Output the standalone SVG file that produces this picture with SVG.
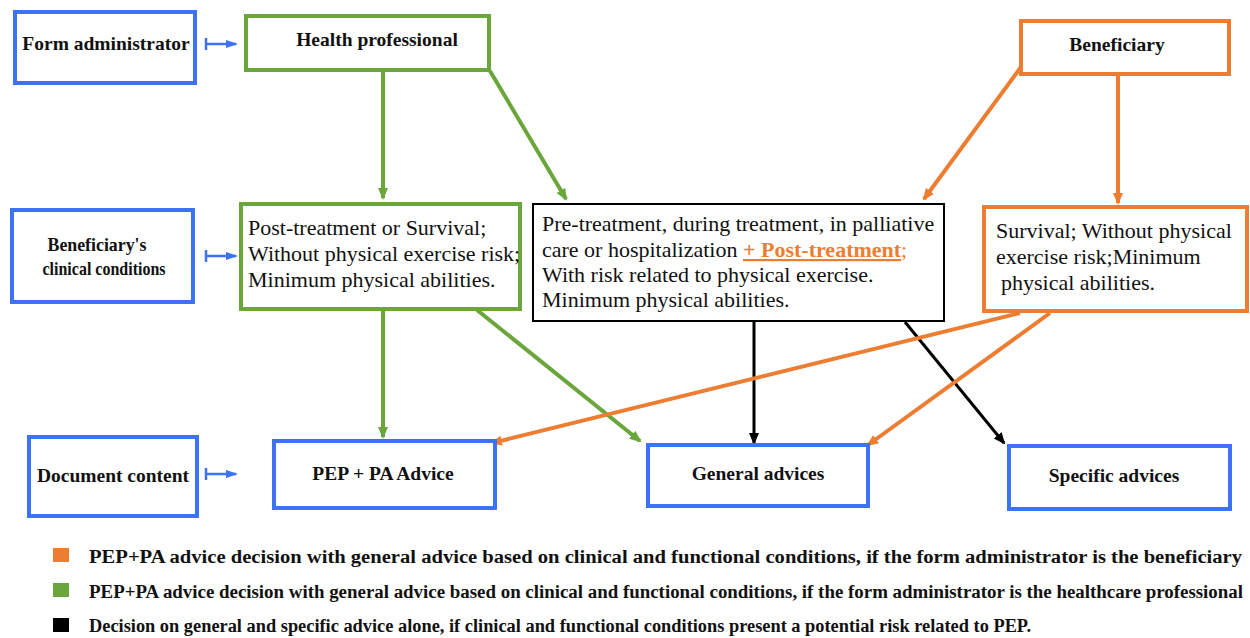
<svg xmlns="http://www.w3.org/2000/svg" width="1250" height="638" viewBox="0 0 1250 638">
<defs>
<style>
.blue{fill:#fff;stroke:#3d72f5;stroke-width:4}
.green{fill:#fff;stroke:#6aa63a;stroke-width:4}
.orange{fill:#fff;stroke:#ed7d31;stroke-width:4}
.black{fill:#fff;stroke:#000;stroke-width:2}
.lbl{font-family:'Liberation Serif','Times New Roman','DejaVu Serif',serif;font-weight:bold;font-size:19.5px;fill:#111;text-anchor:middle}
.sm{font-size:19px}
.body{font-family:'Liberation Serif','Times New Roman','DejaVu Serif',serif;font-size:22px;fill:#111}
.leg{font-family:'Liberation Serif','Times New Roman','DejaVu Serif',serif;font-weight:bold;font-size:18.5px;fill:#111}
.cg{stroke:#6aa63a;stroke-width:4;fill:none}
.co{stroke:#ed7d31;stroke-width:4;fill:none}
.ck{stroke:#000;stroke-width:3;fill:none}
.cb{stroke:#3d72f5;stroke-width:2.5;fill:none}
</style>
<marker id="ag" markerWidth="12" markerHeight="12" refX="10" refY="6" orient="auto" markerUnits="userSpaceOnUse" viewBox="0 0 12 12"><path d="M0,1 L12,6 L0,11 Z" fill="#6aa63a"/></marker>
<marker id="ao" markerWidth="12" markerHeight="12" refX="10" refY="6" orient="auto" markerUnits="userSpaceOnUse" viewBox="0 0 12 12"><path d="M0,1 L12,6 L0,11 Z" fill="#ed7d31"/></marker>
<marker id="ak" markerWidth="12" markerHeight="12" refX="10" refY="6" orient="auto" markerUnits="userSpaceOnUse" viewBox="0 0 12 12"><path d="M0,1 L12,6 L0,11 Z" fill="#000"/></marker>
<marker id="ab" markerWidth="12" markerHeight="10" refX="10" refY="5" orient="auto" markerUnits="userSpaceOnUse" viewBox="0 0 12 10"><path d="M0,1 L12,5 L0,9 Z" fill="#3d72f5"/></marker>
</defs>

<g id="connectors">
<path class="cg" d="M383,71 L383,198" marker-end="url(#ag)"/>
<path class="cg" d="M490,71 L566,199" marker-end="url(#ag)"/>
<path class="co" d="M1021,67 L924,199" marker-end="url(#ao)"/>
<path class="co" d="M1118,76 L1118,203" marker-end="url(#ao)"/>
<path class="cg" d="M383,310 L383,437" marker-end="url(#ag)"/>
<path class="cg" d="M477,310 L640,441" marker-end="url(#ag)"/>
<path class="ck" d="M754,322 L754,443" marker-end="url(#ak)"/>
<path class="ck" d="M905,322 L1004,443" marker-end="url(#ak)"/>
<path class="co" d="M1020,313 L492,443" marker-end="url(#ao)"/>
<path class="co" d="M1050,313 L868,445" marker-end="url(#ao)"/>
<path class="cb" d="M206,38 L206,50 M206,44 L236,44" marker-end="url(#ab)"/>
<path class="cb" d="M206,250 L206,262 M206,256 L236,256" marker-end="url(#ab)"/>
<path class="cb" d="M206,468 L206,480 M206,474 L236,474" marker-end="url(#ab)"/>
</g>

<g id="form-administrator">
<rect class="blue" x="15" y="12" width="180" height="71"/>
<text class="lbl" x="106" y="50">Form administrator</text>
</g>
<g id="health-professional">
<rect class="green" x="246" y="16" width="243" height="54"/>
<text class="lbl" x="377" y="46">Health professional</text>
</g>
<g id="beneficiary">
<rect class="orange" x="1021" y="21" width="208" height="53"/>
<text class="lbl" x="1117" y="51">Beneficiary</text>
</g>
<g id="clinical-conditions">
<rect class="blue" x="12" y="210" width="181" height="92"/>
<text class="lbl sm" x="97" y="251" textLength="99" lengthAdjust="spacingAndGlyphs">Beneficiary's</text>
<text class="lbl sm" x="104" y="275" textLength="123" lengthAdjust="spacingAndGlyphs">clinical conditions</text>
</g>
<g id="green-conditions">
<rect class="green" x="241" y="204" width="279" height="105"/>
<text class="body" x="248" y="235">Post-treatment or Survival;</text>
<text class="body" x="248" y="261">Without physical exercise risk;</text>
<text class="body" x="248" y="287">Minimum physical abilities.</text>
</g>
<g id="black-conditions">
<rect class="black" x="533" y="204" width="411" height="117"/>
<text class="body" x="542" y="231">Pre-treatment, during treatment, in palliative</text>
<text class="body" x="542" y="257">care or hospitalization <tspan fill="#ed7d31" font-weight="bold" text-decoration="underline">+ Post-treatment</tspan><tspan fill="#ed7d31">;</tspan></text>
<text class="body" x="542" y="282">With risk related to physical exercise.</text>
<text class="body" x="542" y="307">Minimum physical abilities.</text>
</g>
<g id="orange-conditions">
<rect class="orange" x="984" y="207" width="263" height="104"/>
<text class="body" x="996" y="238">Survival; Without physical</text>
<text class="body" x="996" y="264">exercise risk;Minimum</text>
<text class="body" x="1001" y="290">physical abilities.</text>
</g>
<g id="document-content">
<rect class="blue" x="29" y="437" width="168" height="79"/>
<text class="lbl" x="113" y="482">Document content</text>
</g>
<g id="pep-pa-advice">
<rect class="blue" x="274" y="441" width="221" height="67"/>
<text class="lbl" x="383" y="480">PEP + PA Advice</text>
</g>
<g id="general-advices">
<rect class="blue" x="648" y="445" width="220" height="61"/>
<text class="lbl" x="758" y="480">General advices</text>
</g>
<g id="specific-advices">
<rect class="blue" x="1009" y="446" width="221" height="63"/>
<text class="lbl" x="1114" y="482">Specific advices</text>
</g>

<g id="legend">
<rect x="53" y="548" width="16" height="14" fill="#ed7d31"/>
<text class="leg" x="89" y="563" textLength="1153" lengthAdjust="spacingAndGlyphs">PEP+PA advice decision with general advice based on clinical and functional conditions, if the form administrator is the beneficiary</text>
<rect x="53" y="583" width="16" height="14" fill="#6aa63a"/>
<text class="leg" x="89" y="598" textLength="1154" lengthAdjust="spacingAndGlyphs">PEP+PA advice decision with general advice based on clinical and functional conditions, if the form administrator is the healthcare professional</text>
<rect x="53" y="618" width="16" height="14" fill="#000"/>
<text class="leg" x="89" y="632" textLength="942" lengthAdjust="spacingAndGlyphs">Decision on general and specific advice alone, if clinical and functional conditions present a potential risk related to PEP.</text>
</g>
</svg>
